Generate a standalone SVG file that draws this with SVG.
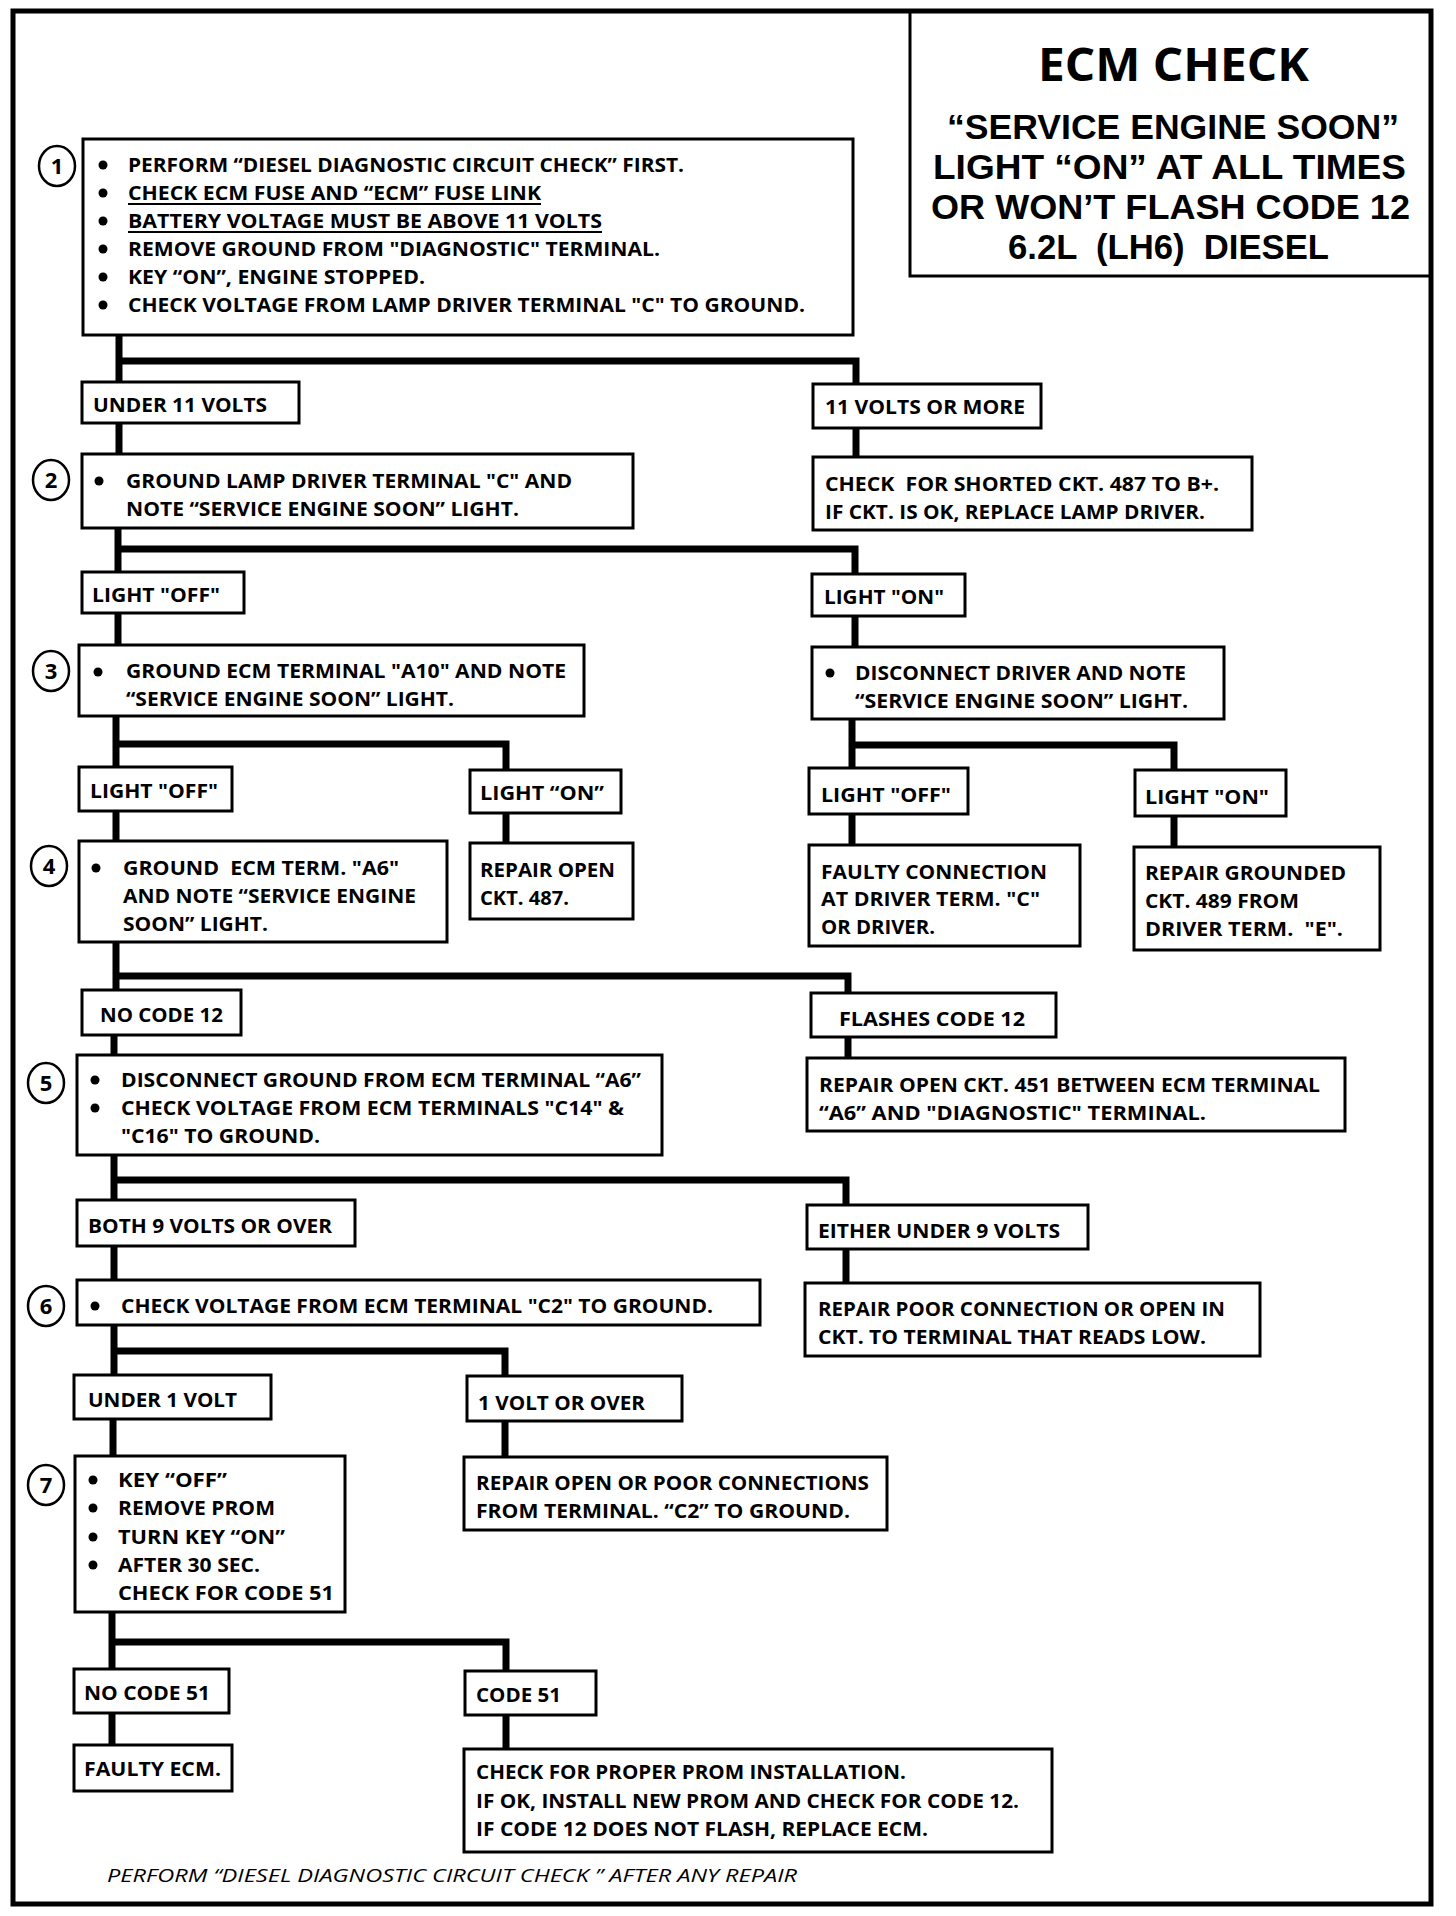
<svg xmlns="http://www.w3.org/2000/svg" width="1456" height="1916" viewBox="0 0 1456 1916">
<style>
.t{font-family:"Open Sans","Liberation Sans",sans-serif;font-weight:700;font-size:20px;fill:#000}
.ti{font-family:"Open Sans","Liberation Sans",sans-serif;font-weight:700;fill:#000}
.ts{font-family:"Liberation Sans","Open Sans",sans-serif;font-weight:700;font-size:35px;fill:#000}
.ft{font-family:"Open Sans","Liberation Sans",sans-serif;font-style:italic;font-weight:400;font-size:19px;fill:#000}
.num{font-family:"Open Sans","Liberation Sans",sans-serif;font-weight:700;font-size:22px;fill:#000;text-anchor:middle}
.box{fill:#fff;stroke:#000;stroke-width:3}
.circ{fill:#fff;stroke:#000;stroke-width:2.5}
.conn{fill:none;stroke:#000;stroke-width:7;stroke-linejoin:miter}
.ul{stroke:#000;stroke-width:2}
</style>
<defs>
<circle id="bul" r="4.5" fill="#000"/>
</defs>
<rect width="1456" height="1916" fill="#fff"/>
<rect x="13" y="11" width="1418" height="1893" fill="none" stroke="#000" stroke-width="5"/>

<g id="title">
<path d="M910 11 V276 H1431" fill="none" stroke="#000" stroke-width="3"/>
<text class="ti" x="1038" y="81" font-size="46" textLength="271" lengthAdjust="spacingAndGlyphs">ECM CHECK</text>
<text class="ts" x="947" y="139" textLength="452" lengthAdjust="spacingAndGlyphs">“SERVICE ENGINE SOON”</text>
<text class="ts" x="933" y="179" textLength="473" lengthAdjust="spacingAndGlyphs">LIGHT “ON” AT ALL TIMES</text>
<text class="ts" x="931" y="219" textLength="479" lengthAdjust="spacingAndGlyphs">OR WON’T FLASH CODE 12</text>
<text class="ts" x="1008" y="259" textLength="321" lengthAdjust="spacingAndGlyphs" xml:space="preserve">6.2L  (LH6)  DIESEL</text>
</g>

<g id="connectors">
<path class="conn" d="M119 333 V382"/>
<path class="conn" d="M119 361 H856 V385"/>
<path class="conn" d="M119 422 V454"/>
<path class="conn" d="M856 428 V457"/>
<path class="conn" d="M118 528 V572"/>
<path class="conn" d="M118 549 H855 V574"/>
<path class="conn" d="M118 613 V645"/>
<path class="conn" d="M855 616 V647"/>
<path class="conn" d="M116 716 V767"/>
<path class="conn" d="M116 744 H506 V770"/>
<path class="conn" d="M852 719 V768"/>
<path class="conn" d="M852 745 H1174 V770"/>
<path class="conn" d="M116 811 V841"/>
<path class="conn" d="M506 813 V843"/>
<path class="conn" d="M852 814 V845"/>
<path class="conn" d="M1174 816 V847"/>
<path class="conn" d="M116 942 V990"/>
<path class="conn" d="M116 976 H848 V993"/>
<path class="conn" d="M114 1035 V1055"/>
<path class="conn" d="M848 1037 V1058"/>
<path class="conn" d="M114 1155 V1200"/>
<path class="conn" d="M114 1180 H846 V1205"/>
<path class="conn" d="M114 1246 V1280"/>
<path class="conn" d="M846 1249 V1283"/>
<path class="conn" d="M114 1325 V1375"/>
<path class="conn" d="M114 1351 H505 V1376"/>
<path class="conn" d="M113 1419 V1456"/>
<path class="conn" d="M505 1421 V1457"/>
<path class="conn" d="M112 1612 V1669"/>
<path class="conn" d="M112 1642 H506 V1671"/>
<path class="conn" d="M112 1713 V1745"/>
<path class="conn" d="M506 1715 V1749"/>
</g>

<g id="step1">
<ellipse class="circ" cx="57" cy="166" rx="18" ry="20"/>
<text class="num" x="57" y="174">1</text>
<rect class="box" x="83" y="139" width="770" height="196"/>
<use href="#bul" x="103" y="165"/><use href="#bul" x="103" y="193"/><use href="#bul" x="103" y="221"/>
<use href="#bul" x="103" y="249"/><use href="#bul" x="103" y="277"/><use href="#bul" x="103" y="305"/>
<text class="t" x="128" y="172" textLength="556" lengthAdjust="spacingAndGlyphs">PERFORM “DIESEL DIAGNOSTIC CIRCUIT CHECK” FIRST.</text>
<text class="t" x="128" y="200" textLength="413" lengthAdjust="spacingAndGlyphs">CHECK ECM FUSE AND “ECM” FUSE LINK</text>
<line class="ul" x1="128" y1="204" x2="541" y2="204"/>
<text class="t" x="128" y="228" textLength="474" lengthAdjust="spacingAndGlyphs">BATTERY VOLTAGE MUST BE ABOVE 11 VOLTS</text>
<line class="ul" x1="128" y1="232" x2="602" y2="232"/>
<text class="t" x="128" y="256" textLength="532" lengthAdjust="spacingAndGlyphs">REMOVE GROUND FROM "DIAGNOSTIC" TERMINAL.</text>
<text class="t" x="128" y="284" textLength="297" lengthAdjust="spacingAndGlyphs">KEY “ON”, ENGINE STOPPED.</text>
<text class="t" x="128" y="312" textLength="677" lengthAdjust="spacingAndGlyphs">CHECK VOLTAGE FROM LAMP DRIVER TERMINAL "C" TO GROUND.</text>
</g>

<g id="under11">
<rect class="box" x="82" y="382" width="217" height="41"/>
<text class="t" x="93" y="412" textLength="174" lengthAdjust="spacingAndGlyphs">UNDER 11 VOLTS</text>
</g>
<g id="volts11more">
<rect class="box" x="813" y="384" width="228" height="44"/>
<text class="t" x="825" y="414" textLength="200" lengthAdjust="spacingAndGlyphs">11 VOLTS OR MORE</text>
</g>

<g id="step2">
<ellipse class="circ" cx="51" cy="480" rx="18" ry="20"/>
<text class="num" x="51" y="488">2</text>
<rect class="box" x="82" y="454" width="551" height="74"/>
<use href="#bul" x="99" y="481"/>
<text class="t" x="126" y="488" textLength="446" lengthAdjust="spacingAndGlyphs">GROUND LAMP DRIVER TERMINAL "C" AND</text>
<text class="t" x="126" y="516" textLength="393" lengthAdjust="spacingAndGlyphs">NOTE “SERVICE ENGINE SOON” LIGHT.</text>
</g>
<g id="shorted">
<rect class="box" x="813" y="457" width="439" height="73"/>
<text class="t" x="825" y="491" textLength="394" lengthAdjust="spacingAndGlyphs" xml:space="preserve">CHECK  FOR SHORTED CKT. 487 TO B+.</text>
<text class="t" x="825" y="519" textLength="380" lengthAdjust="spacingAndGlyphs">IF CKT. IS OK, REPLACE LAMP DRIVER.</text>
</g>

<g id="off1">
<rect class="box" x="82" y="572" width="162" height="41"/>
<text class="t" x="92" y="602" textLength="128" lengthAdjust="spacingAndGlyphs">LIGHT "OFF"</text>
</g>
<g id="on1">
<rect class="box" x="812" y="574" width="153" height="42"/>
<text class="t" x="824" y="604" textLength="120" lengthAdjust="spacingAndGlyphs">LIGHT "ON"</text>
</g>

<g id="step3">
<ellipse class="circ" cx="51" cy="671" rx="18" ry="20"/>
<text class="num" x="51" y="679">3</text>
<rect class="box" x="79" y="645" width="505" height="71"/>
<use href="#bul" x="98" y="672"/>
<text class="t" x="126" y="678" textLength="440" lengthAdjust="spacingAndGlyphs">GROUND ECM TERMINAL "A10" AND NOTE</text>
<text class="t" x="126" y="706" textLength="328" lengthAdjust="spacingAndGlyphs">“SERVICE ENGINE SOON” LIGHT.</text>
</g>
<g id="disconnect">
<rect class="box" x="812" y="647" width="412" height="72"/>
<use href="#bul" x="830" y="673"/>
<text class="t" x="855" y="680" textLength="331" lengthAdjust="spacingAndGlyphs">DISCONNECT DRIVER AND NOTE</text>
<text class="t" x="855" y="708" textLength="333" lengthAdjust="spacingAndGlyphs">“SERVICE ENGINE SOON” LIGHT.</text>
</g>

<g id="off2">
<rect class="box" x="79" y="767" width="153" height="44"/>
<text class="t" x="90" y="798" textLength="128" lengthAdjust="spacingAndGlyphs">LIGHT "OFF"</text>
</g>
<g id="on2">
<rect class="box" x="470" y="770" width="151" height="43"/>
<text class="t" x="480" y="800" textLength="124" lengthAdjust="spacingAndGlyphs">LIGHT “ON”</text>
</g>
<g id="off3">
<rect class="box" x="809" y="768" width="159" height="46"/>
<text class="t" x="821" y="802" textLength="130" lengthAdjust="spacingAndGlyphs">LIGHT "OFF"</text>
</g>
<g id="on3">
<rect class="box" x="1135" y="770" width="151" height="46"/>
<text class="t" x="1145" y="804" textLength="124" lengthAdjust="spacingAndGlyphs">LIGHT "ON"</text>
</g>

<g id="step4">
<ellipse class="circ" cx="49" cy="866" rx="18" ry="20"/>
<text class="num" x="49" y="874">4</text>
<rect class="box" x="79" y="841" width="368" height="101"/>
<use href="#bul" x="96" y="868"/>
<text class="t" x="123" y="875" textLength="276" lengthAdjust="spacingAndGlyphs" xml:space="preserve">GROUND  ECM TERM. "A6"</text>
<text class="t" x="123" y="903" textLength="293" lengthAdjust="spacingAndGlyphs">AND NOTE “SERVICE ENGINE</text>
<text class="t" x="123" y="931" textLength="145" lengthAdjust="spacingAndGlyphs">SOON” LIGHT.</text>
</g>
<g id="repair487">
<rect class="box" x="470" y="843" width="163" height="76"/>
<text class="t" x="480" y="877" textLength="135" lengthAdjust="spacingAndGlyphs">REPAIR OPEN</text>
<text class="t" x="480" y="905" textLength="89" lengthAdjust="spacingAndGlyphs">CKT. 487.</text>
</g>
<g id="faultyconn">
<rect class="box" x="809" y="845" width="271" height="101"/>
<text class="t" x="821" y="879" textLength="226" lengthAdjust="spacingAndGlyphs">FAULTY CONNECTION</text>
<text class="t" x="821" y="906" textLength="219" lengthAdjust="spacingAndGlyphs">AT DRIVER TERM. "C"</text>
<text class="t" x="821" y="934" textLength="114" lengthAdjust="spacingAndGlyphs">OR DRIVER.</text>
</g>
<g id="grounded489">
<rect class="box" x="1134" y="847" width="246" height="103"/>
<text class="t" x="1145" y="880" textLength="201" lengthAdjust="spacingAndGlyphs">REPAIR GROUNDED</text>
<text class="t" x="1145" y="908" textLength="154" lengthAdjust="spacingAndGlyphs">CKT. 489 FROM</text>
<text class="t" x="1145" y="936" textLength="198" lengthAdjust="spacingAndGlyphs" xml:space="preserve">DRIVER TERM.  "E".</text>
</g>

<g id="nocode12">
<rect class="box" x="82" y="990" width="159" height="45"/>
<text class="t" x="100" y="1022" textLength="123" lengthAdjust="spacingAndGlyphs">NO CODE 12</text>
</g>
<g id="flashes12">
<rect class="box" x="811" y="993" width="245" height="44"/>
<text class="t" x="839" y="1026" textLength="186" lengthAdjust="spacingAndGlyphs">FLASHES CODE 12</text>
</g>

<g id="step5">
<ellipse class="circ" cx="46" cy="1083" rx="18" ry="20"/>
<text class="num" x="46" y="1091">5</text>
<rect class="box" x="77" y="1055" width="585" height="100"/>
<use href="#bul" x="95" y="1080"/><use href="#bul" x="95" y="1108"/>
<text class="t" x="121" y="1087" textLength="520" lengthAdjust="spacingAndGlyphs">DISCONNECT GROUND FROM ECM TERMINAL “A6”</text>
<text class="t" x="121" y="1115" textLength="503" lengthAdjust="spacingAndGlyphs">CHECK VOLTAGE FROM ECM TERMINALS "C14" &amp;</text>
<text class="t" x="121" y="1143" textLength="199" lengthAdjust="spacingAndGlyphs">"C16" TO GROUND.</text>
</g>
<g id="repair451">
<rect class="box" x="807" y="1058" width="538" height="73"/>
<text class="t" x="819" y="1092" textLength="501" lengthAdjust="spacingAndGlyphs">REPAIR OPEN CKT. 451 BETWEEN ECM TERMINAL</text>
<text class="t" x="819" y="1120" textLength="387" lengthAdjust="spacingAndGlyphs">“A6” AND "DIAGNOSTIC" TERMINAL.</text>
</g>

<g id="both9">
<rect class="box" x="77" y="1200" width="278" height="46"/>
<text class="t" x="88" y="1233" textLength="244" lengthAdjust="spacingAndGlyphs">BOTH 9 VOLTS OR OVER</text>
</g>
<g id="either9">
<rect class="box" x="807" y="1205" width="281" height="44"/>
<text class="t" x="818" y="1238" textLength="242" lengthAdjust="spacingAndGlyphs">EITHER UNDER 9 VOLTS</text>
</g>

<g id="step6">
<ellipse class="circ" cx="46" cy="1306" rx="18" ry="20"/>
<text class="num" x="46" y="1314">6</text>
<rect class="box" x="77" y="1280" width="683" height="45"/>
<use href="#bul" x="95" y="1306"/>
<text class="t" x="121" y="1313" textLength="592" lengthAdjust="spacingAndGlyphs">CHECK VOLTAGE FROM ECM TERMINAL "C2" TO GROUND.</text>
</g>
<g id="repairpoor">
<rect class="box" x="805" y="1283" width="455" height="73"/>
<text class="t" x="818" y="1316" textLength="407" lengthAdjust="spacingAndGlyphs">REPAIR POOR CONNECTION OR OPEN IN</text>
<text class="t" x="818" y="1344" textLength="388" lengthAdjust="spacingAndGlyphs">CKT. TO TERMINAL THAT READS LOW.</text>
</g>

<g id="under1">
<rect class="box" x="74" y="1375" width="197" height="44"/>
<text class="t" x="88" y="1407" textLength="149" lengthAdjust="spacingAndGlyphs">UNDER 1 VOLT</text>
</g>
<g id="over1">
<rect class="box" x="467" y="1376" width="215" height="45"/>
<text class="t" x="478" y="1410" textLength="167" lengthAdjust="spacingAndGlyphs">1 VOLT OR OVER</text>
</g>

<g id="step7">
<ellipse class="circ" cx="46" cy="1485" rx="18" ry="20"/>
<text class="num" x="46" y="1493">7</text>
<rect class="box" x="75" y="1456" width="270" height="156"/>
<use href="#bul" x="93" y="1480"/><use href="#bul" x="93" y="1508"/><use href="#bul" x="93" y="1537"/><use href="#bul" x="93" y="1565"/>
<text class="t" x="118" y="1487" textLength="109" lengthAdjust="spacingAndGlyphs">KEY “OFF”</text>
<text class="t" x="118" y="1515" textLength="157" lengthAdjust="spacingAndGlyphs">REMOVE PROM</text>
<text class="t" x="118" y="1544" textLength="167" lengthAdjust="spacingAndGlyphs">TURN KEY “ON”</text>
<text class="t" x="118" y="1572" textLength="142" lengthAdjust="spacingAndGlyphs">AFTER 30 SEC.</text>
<text class="t" x="118" y="1600" textLength="216" lengthAdjust="spacingAndGlyphs">CHECK FOR CODE 51</text>
</g>
<g id="repairopenpoor">
<rect class="box" x="464" y="1457" width="423" height="73"/>
<text class="t" x="476" y="1490" textLength="393" lengthAdjust="spacingAndGlyphs">REPAIR OPEN OR POOR CONNECTIONS</text>
<text class="t" x="476" y="1518" textLength="374" lengthAdjust="spacingAndGlyphs">FROM TERMINAL. “C2” TO GROUND.</text>
</g>

<g id="nocode51">
<rect class="box" x="74" y="1669" width="155" height="44"/>
<text class="t" x="84" y="1700" textLength="126" lengthAdjust="spacingAndGlyphs">NO CODE 51</text>
</g>
<g id="code51">
<rect class="box" x="465" y="1671" width="131" height="44"/>
<text class="t" x="476" y="1702" textLength="85" lengthAdjust="spacingAndGlyphs">CODE 51</text>
</g>
<g id="faultyecm">
<rect class="box" x="74" y="1745" width="158" height="46"/>
<text class="t" x="84" y="1776" textLength="137" lengthAdjust="spacingAndGlyphs">FAULTY ECM.</text>
</g>
<g id="properprom">
<rect class="box" x="464" y="1749" width="588" height="103"/>
<text class="t" x="476" y="1779" textLength="430" lengthAdjust="spacingAndGlyphs">CHECK FOR PROPER PROM INSTALLATION.</text>
<text class="t" x="476" y="1808" textLength="543" lengthAdjust="spacingAndGlyphs">IF OK, INSTALL NEW PROM AND CHECK FOR CODE 12.</text>
<text class="t" x="476" y="1836" textLength="452" lengthAdjust="spacingAndGlyphs">IF CODE 12 DOES NOT FLASH, REPLACE ECM.</text>
</g>

<g id="footer">
<text class="ft" x="107" y="1882" textLength="690" lengthAdjust="spacingAndGlyphs">PERFORM “DIESEL DIAGNOSTIC CIRCUIT CHECK ” AFTER ANY REPAIR</text>
</g>
</svg>
